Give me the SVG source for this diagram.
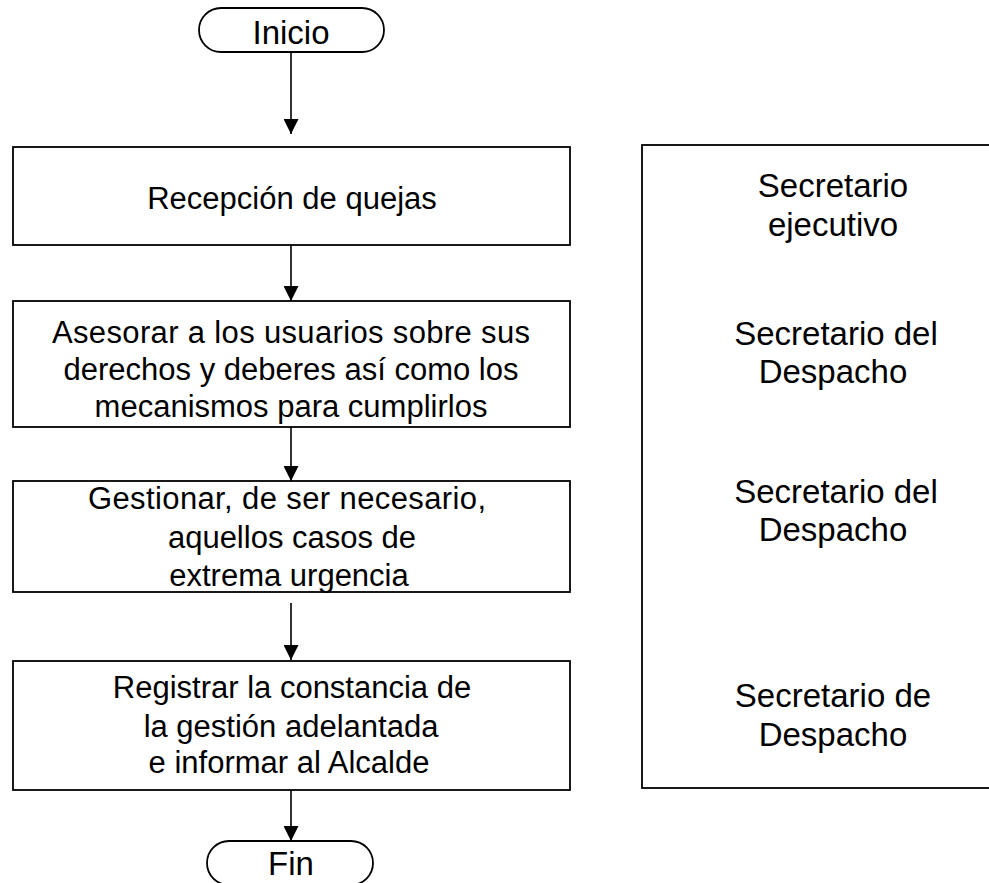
<svg xmlns="http://www.w3.org/2000/svg" width="989" height="883" viewBox="0 0 989 883">
<style>
.box{fill:#fff;stroke:#000;stroke-width:1.8}
.t{font-family:"Liberation Sans",Arial,sans-serif;font-size:31px;fill:#000;text-anchor:middle}
.r{font-family:"Liberation Sans",Arial,sans-serif;font-size:33px;fill:#000;text-anchor:middle}
.c{stroke:#000;stroke-width:1.6;fill:none;marker-end:url(#ah)}
</style>
<defs>
<marker id="ah" markerUnits="userSpaceOnUse" markerWidth="15" markerHeight="15" viewBox="0 0 15 15" refX="15" refY="7.5" orient="auto">
<path d="M0,0 L15,7.5 L0,15 z" fill="#000"/>
</marker>
</defs>
<rect width="989" height="883" fill="#fff"/>
<g id="connectors">
<line class="c" x1="291" y1="52" x2="291" y2="134"/>
<line class="c" x1="291" y1="245" x2="291" y2="301"/>
<line class="c" x1="291" y1="427" x2="291" y2="481"/>
<line class="c" x1="291" y1="603" x2="291" y2="660"/>
<line class="c" x1="291" y1="790" x2="291" y2="841"/>
</g>
<g id="inicio">
<rect class="box" x="199" y="8" width="185" height="44" rx="22" ry="22"/>
<text class="r" x="291" y="44">Inicio</text>
</g>
<g id="recepcion">
<rect class="box" x="13" y="147" width="557" height="98"/>
<text class="t" x="292" y="209">Recepción de quejas</text>
</g>
<g id="asesorar">
<rect class="box" x="13" y="301" width="557" height="126"/>
<text class="t" x="291" y="343" textLength="478" lengthAdjust="spacing">Asesorar a los usuarios sobre sus</text>
<text class="t" x="291" y="380">derechos y deberes así como los</text>
<text class="t" x="291" y="417">mecanismos para cumplirlos</text>
</g>
<g id="gestionar">
<rect class="box" x="13" y="481" width="557" height="111"/>
<text class="t" x="287" y="509" textLength="398" lengthAdjust="spacing">Gestionar, de ser necesario,</text>
<text class="t" x="292" y="548">aquellos casos de</text>
<text class="t" x="289" y="586">extrema urgencia</text>
</g>
<g id="registrar">
<rect class="box" x="13" y="661" width="557" height="129"/>
<text class="t" x="292" y="698">Registrar la constancia de</text>
<text class="t" x="291" y="737">la gestión adelantada</text>
<text class="t" x="289" y="773">e informar al Alcalde</text>
</g>
<g id="fin">
<rect class="box" x="207" y="841" width="166" height="44" rx="22" ry="22"/>
<text class="r" x="291" y="875">Fin</text>
</g>
<g id="responsables">
<rect class="box" x="642" y="145" width="400" height="643"/>
<text class="r" x="833" y="197">Secretario</text>
<text class="r" x="833" y="236">ejecutivo</text>
<text class="r" x="836" y="345">Secretario del</text>
<text class="r" x="833" y="383">Despacho</text>
<text class="r" x="836" y="503">Secretario del</text>
<text class="r" x="833" y="541">Despacho</text>
<text class="r" x="833" y="707">Secretario de</text>
<text class="r" x="833" y="746">Despacho</text>
</g>
</svg>
